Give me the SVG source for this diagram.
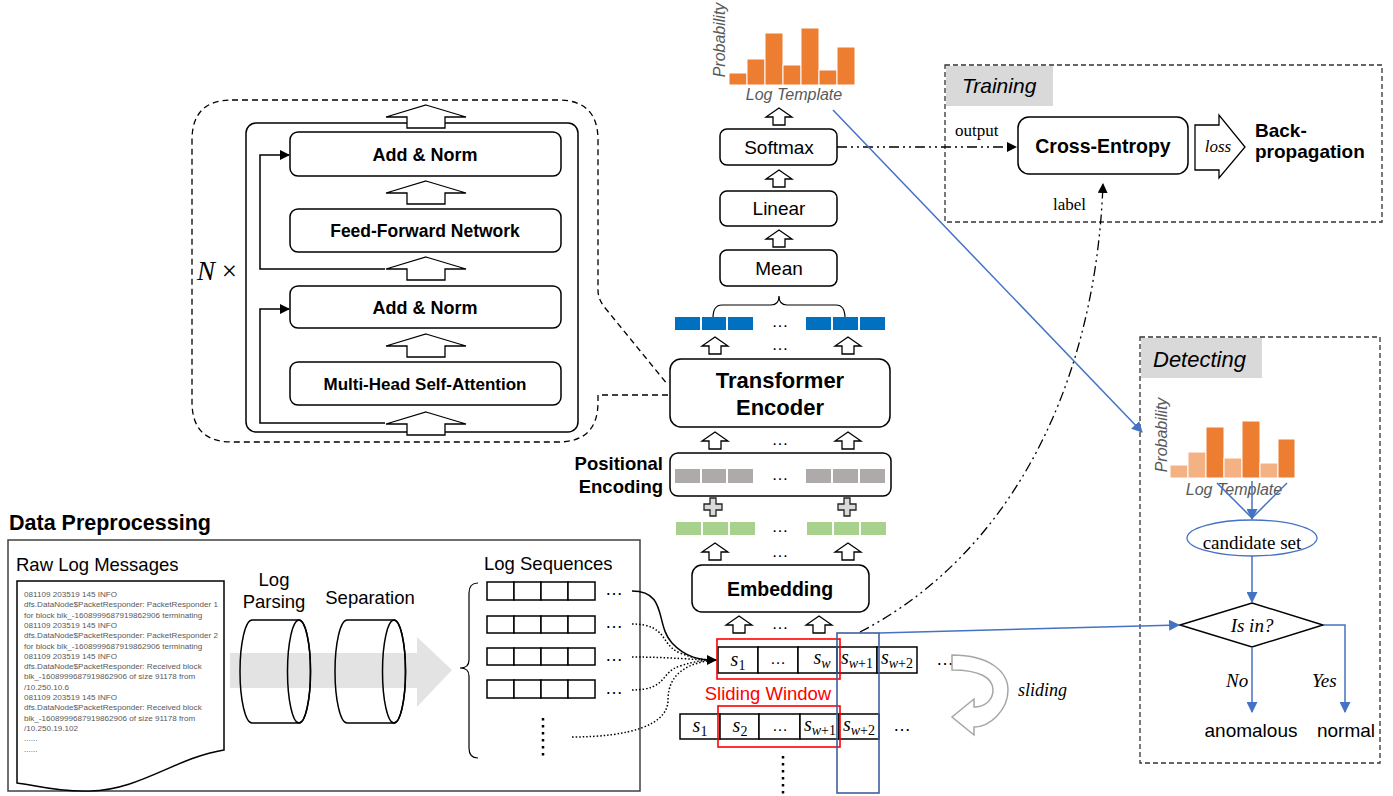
<svg xmlns="http://www.w3.org/2000/svg" width="1393" height="796" viewBox="0 0 1393 796">
<style>
.box{fill:#fff;stroke:#000;stroke-width:1.5}
.cell{fill:#fff;stroke:#000;stroke-width:1.5}
.sa{fill:#fff;stroke:#000;stroke-width:1.3}
.sans{font-family:"Liberation Sans",Arial,sans-serif}
.serif{font-family:"Liberation Serif","Times New Roman",serif}
.b{font-weight:bold}
.it{font-style:italic}
.c{text-anchor:middle}
.grey{fill:#595959}
.m{font-family:"Liberation Serif","Times New Roman",serif;font-size:20px;text-anchor:middle}
.bar{fill:#ED7D31;stroke:#fff;stroke-width:1}
.barl{fill:#F4B183;stroke:#fff;stroke-width:1}
.blue{fill:#0070C0}
.gry{fill:#AEAAAA}
.grn{fill:#A9D18E}
.log{font-family:"Liberation Sans",Arial,sans-serif;font-size:8.1px;fill:#595959}
.dd{stroke:#000;stroke-width:1.3;fill:none;stroke-dasharray:10 4 2 4 2 4}
.bl{stroke:#4472C4;stroke-width:1.5;fill:none}
</style>
<defs>
<marker id="ah" viewBox="0 0 10 10" refX="9" refY="5" markerUnits="userSpaceOnUse" markerWidth="10" markerHeight="10" orient="auto"><path d="M0,0 L10,5 L0,10 z" fill="#000"/></marker>
<marker id="ahb" viewBox="0 0 10 10" refX="9" refY="5" markerUnits="userSpaceOnUse" markerWidth="11" markerHeight="11" orient="auto"><path d="M0,0 L10,5 L0,10 z" fill="#4472C4"/></marker>
<path id="sa" d="M0,0 L13,9 H6 V17 H-6 V9 H-13 Z" class="sa"/>
<path id="ba" d="M0,0 L40,12 H19 V23 H-19 V12 H-40 Z" class="sa"/>
<path id="plus" d="M-3,-9 H3 V-3 H9 V3 H3 V9 H-3 V3 H-9 V-3 H-3 Z" fill="#D9D9D9" stroke="#222" stroke-width="1.3"/>
</defs>
<rect width="1393" height="796" fill="#fff"/>

<!-- N x encoder detail -->
<g id="encoder-detail">
<path d="M232,100 H558 Q598,100 598,140 V290 Q598,300 606,309 L668,385 M668,395 H598 V402 Q598,442 558,442 H232 Q192,442 192,402 V140 Q192,100 232,100" fill="none" stroke="#000" stroke-width="1.3" stroke-dasharray="6 4"/>
<rect x="246" y="123" width="332" height="309" rx="10" class="box"/>
<text x="197" y="280" class="serif" font-size="27"><tspan class="it">N</tspan> ×</text>
<g id="addnorm1"><rect x="290" y="132" width="271" height="44" rx="8" class="box"/><text x="425" y="161" class="sans b c" font-size="18">Add &amp; Norm</text></g>
<g id="ffn"><rect x="290" y="209" width="271" height="43" rx="8" class="box"/><text x="425" y="237" class="sans b c" font-size="17.5">Feed-Forward Network</text></g>
<g id="addnorm2"><rect x="290" y="286" width="271" height="42" rx="8" class="box"/><text x="425" y="314" class="sans b c" font-size="18">Add &amp; Norm</text></g>
<g id="mhsa"><rect x="290" y="362" width="271" height="43" rx="8" class="box"/><text x="425" y="390" class="sans b c" font-size="17">Multi-Head Self-Attention</text></g>
<path d="M385,269 H260 V155 H289" fill="none" stroke="#000" stroke-width="1.5" marker-end="url(#ah)"/>
<path d="M385,423 H260 V309 H289" fill="none" stroke="#000" stroke-width="1.5" marker-end="url(#ah)"/>
<use href="#ba" x="426" y="105"/>
<use href="#ba" x="426" y="181"/>
<use href="#ba" x="426" y="257"/>
<use href="#ba" x="426" y="334"/>
<use href="#ba" x="426" y="412"/>
</g>

<!-- right column -->
<g id="histogram-top">
<rect x="729" y="73" width="18" height="12" class="bar"/>
<rect x="747" y="59" width="18" height="26" class="bar"/>
<rect x="765" y="33" width="18" height="52" class="bar"/>
<rect x="783" y="65" width="18" height="20" class="bar"/>
<rect x="801" y="28" width="18" height="57" class="bar"/>
<rect x="819" y="70" width="18" height="15" class="bar"/>
<rect x="837" y="47" width="18" height="38" class="bar"/>
<text transform="translate(725,40) rotate(-90)" class="sans it c grey" font-size="16">Probability</text>
<text x="794" y="100" class="sans it c grey" font-size="16">Log Template</text>
</g>
<g id="softmax"><rect x="720" y="129" width="117" height="36" rx="7" class="box"/><text x="779" y="154" class="sans c" font-size="19">Softmax</text></g>
<g id="linear"><rect x="720" y="191" width="117" height="35" rx="7" class="box"/><text x="779" y="215" class="sans c" font-size="19">Linear</text></g>
<g id="mean"><rect x="720" y="250" width="117" height="36" rx="7" class="box"/><text x="779" y="275" class="sans c" font-size="19">Mean</text></g>
<g id="enc-out">
<path d="M713,318 Q713,305 722,305 H771 Q779,305 779,296 Q779,305 787,305 H836 Q845,305 845,318" fill="none" stroke="#000" stroke-width="1.2"/>
<rect x="675" y="317" width="25" height="13" class="blue"/><rect x="702" y="317" width="24" height="13" class="blue"/><rect x="728" y="317" width="25" height="13" class="blue"/>
<rect x="806" y="317" width="25" height="13" class="blue"/><rect x="833" y="317" width="25" height="13" class="blue"/><rect x="860" y="317" width="25" height="13" class="blue"/>
<text x="780" y="327" class="sans c" font-size="17">…</text>
</g>
<g id="transformer-encoder"><rect x="670" y="359" width="220" height="68" rx="11" class="box"/><text x="780" y="388" class="sans b c" font-size="22">Transformer</text><text x="780" y="415" class="sans b c" font-size="22">Encoder</text></g>
<g id="positional-encoding">
<rect x="670" y="453" width="221" height="43" rx="8" class="box"/>
<rect x="675" y="469" width="25" height="14" class="gry"/><rect x="702" y="469" width="24" height="14" class="gry"/><rect x="728" y="469" width="25" height="14" class="gry"/>
<rect x="806" y="469" width="25" height="14" class="gry"/><rect x="833" y="469" width="25" height="14" class="gry"/><rect x="860" y="469" width="25" height="14" class="gry"/>
<text x="780" y="480" class="sans c" font-size="17">…</text>
<text x="663" y="470" class="sans b" font-size="18.5" text-anchor="end">Positional</text>
<text x="663" y="493" class="sans b" font-size="18.5" text-anchor="end">Encoding</text>
</g>
<g id="embed-vectors">
<rect x="676" y="522" width="25" height="13" class="grn"/><rect x="703" y="522" width="25" height="13" class="grn"/><rect x="730" y="522" width="25" height="13" class="grn"/>
<rect x="807" y="522" width="25" height="13" class="grn"/><rect x="834" y="522" width="25" height="13" class="grn"/><rect x="861" y="522" width="25" height="13" class="grn"/>
<text x="780" y="532" class="sans c" font-size="17">…</text>
</g>
<g id="embedding"><rect x="692" y="565" width="177" height="47" rx="10" class="box"/><text x="780" y="596" class="sans b c" font-size="19.5">Embedding</text></g>

<g id="small-arrows">
<use href="#sa" x="779" y="108"/>
<use href="#sa" x="779" y="170"/>
<use href="#sa" x="779" y="230"/>
<use href="#sa" x="715" y="337"/><use href="#sa" x="848" y="337"/>
<text x="780" y="350" class="sans c" font-size="17">…</text>
<use href="#sa" x="715" y="432"/><use href="#sa" x="848" y="432"/>
<text x="780" y="445" class="sans c" font-size="17">…</text>
<use href="#plus" x="713" y="507"/><use href="#plus" x="847" y="507"/>
<use href="#sa" x="715" y="543"/><use href="#sa" x="848" y="543"/>
<text x="780" y="557" class="sans c" font-size="17">…</text>
<use href="#sa" x="739" y="616"/><use href="#sa" x="819" y="616"/>
<text x="780" y="629" class="sans c" font-size="17">…</text>
</g>

<!-- sequences -->
<g id="sequence-1">
<rect x="718" y="647" width="40" height="26" class="cell"/><rect x="758" y="647" width="40" height="26" class="cell"/><rect x="798" y="647" width="39" height="26" class="cell"/><rect x="837" y="647" width="40" height="26" class="cell"/><rect x="877" y="647" width="40" height="26" class="cell"/>
<text x="738" y="666" class="m"><tspan class="it">s</tspan><tspan dy="4" font-size="14">1</tspan></text>
<text x="778" y="664" class="sans c" font-size="16">…</text>
<text x="822" y="664" class="m"><tspan class="it">s</tspan><tspan dy="4" font-size="14" class="it">w</tspan></text>
<text x="857" y="664" class="m"><tspan class="it">s</tspan><tspan dy="4" font-size="14"><tspan class="it">w</tspan>+1</tspan></text>
<text x="897" y="664" class="m"><tspan class="it">s</tspan><tspan dy="4" font-size="14"><tspan class="it">w</tspan>+2</tspan></text>
<text x="945" y="665" class="sans c" font-size="18">…</text>
</g>
<g id="sequence-2">
<rect x="680" y="714" width="40" height="25" class="cell"/><rect x="720" y="714" width="39" height="25" class="cell"/><rect x="759" y="714" width="41" height="25" class="cell"/><rect x="800" y="714" width="39" height="25" class="cell"/><rect x="839" y="714" width="40" height="25" class="cell"/>
<text x="700" y="732" class="m"><tspan class="it">s</tspan><tspan dy="4" font-size="14">1</tspan></text>
<text x="740" y="732" class="m"><tspan class="it">s</tspan><tspan dy="4" font-size="14">2</tspan></text>
<text x="780" y="731" class="sans c" font-size="16">…</text>
<text x="820" y="731" class="m"><tspan class="it">s</tspan><tspan dy="4" font-size="14"><tspan class="it">w</tspan>+1</tspan></text>
<text x="859" y="731" class="m"><tspan class="it">s</tspan><tspan dy="4" font-size="14"><tspan class="it">w</tspan>+2</tspan></text>
<text x="902" y="731" class="sans c" font-size="18">…</text>
<line x1="783" y1="756" x2="783" y2="796" stroke="#000" stroke-width="2.5" stroke-dasharray="2.5 4.5"/>
</g>
<g id="sliding-window">
<rect x="717" y="639" width="123" height="40" fill="none" stroke="#FF0000" stroke-width="1.6"/>
<rect x="718" y="706" width="122" height="41" fill="none" stroke="#FF0000" stroke-width="1.6"/>
<text x="768" y="700" class="sans c" font-size="18.5" fill="#FF0000">Sliding Window</text>
<rect x="837" y="633" width="42" height="160" fill="none" stroke="#3F5F9F" stroke-width="1.6"/>
</g>
<g id="sliding-arrow">
<path d="M952,655 C990,655 1008,672 1008,690 C1008,710 990,727 974,727 L974,735 L952,717 L974,699 L974,707 C985,707 993,700 993,690 C993,678 980,670 952,670 Z" fill="#fff" stroke="#A6A6A6" stroke-width="1.5"/>
<text x="1018" y="696" class="serif it" font-size="18">sliding</text>
</g>

<!-- data preprocessing -->
<g id="data-preprocessing">
<text x="9" y="530" class="sans b" font-size="21.5">Data Preprocessing</text>
<rect x="8" y="540" width="632" height="251" fill="#fff" stroke="#404040" stroke-width="1.5"/>
<text x="16" y="571" class="sans" font-size="18.5">Raw Log Messages</text>
<path d="M17,581 H224 V750 C175,758 140,790 90,791 C55,792 35,785 17,783 Z" fill="#fff" stroke="#000" stroke-width="1.5"/>
<text class="log">
<tspan x="24" y="597">081109 203519 145 INFO</tspan>
<tspan x="24" y="607.3">dfs.DataNode$PacketResponder: PacketResponder 1</tspan>
<tspan x="24" y="617.6">for block blk_-1608999687919862906 terminating</tspan>
<tspan x="24" y="627.9">081109 203519 145 INFO</tspan>
<tspan x="24" y="638.2">dfs.DataNode$PacketResponder: PacketResponder 2</tspan>
<tspan x="24" y="648.5">for block blk_-1608999687919862906 terminating</tspan>
<tspan x="24" y="658.8">081109 203519 145 INFO</tspan>
<tspan x="24" y="669.1">dfs.DataNode$PacketResponder: Received block</tspan>
<tspan x="24" y="679.4">blk_-1608999687919862906 of size 91178 from</tspan>
<tspan x="24" y="689.7">/10.250.10.6</tspan>
<tspan x="24" y="700">081109 203519 145 INFO</tspan>
<tspan x="24" y="710.3">dfs.DataNode$PacketResponder: Received block</tspan>
<tspan x="24" y="720.6">blk_-1608999687919862906 of size 91178 from</tspan>
<tspan x="24" y="730.9">/10.250.19.102</tspan>
<tspan x="24" y="741.2">......</tspan>
<tspan x="24" y="751.5">......</tspan>
</text>
<path d="M230,653 H417 V637 L452,670 L417,707 V688 H230 Z" fill="#E3E3E3"/>
<g id="log-parsing">
<path d="M252,620 H299 A11.5,51.5 0 0 1 299,723 H252 A12,51.5 0 0 1 252,620 Z" fill="none" stroke="#000" stroke-width="1.5"/>
<ellipse cx="299" cy="671.5" rx="11.5" ry="51.5" fill="none" stroke="#000" stroke-width="1.5"/>
<text x="274" y="586" class="sans c" font-size="18.5">Log</text>
<text x="274" y="608" class="sans c" font-size="18.5">Parsing</text>
</g>
<g id="separation">
<path d="M347,620 H394 A11.5,51.5 0 0 1 394,723 H347 A12,51.5 0 0 1 347,620 Z" fill="none" stroke="#000" stroke-width="1.5"/>
<ellipse cx="394" cy="671.5" rx="11.5" ry="51.5" fill="none" stroke="#000" stroke-width="1.5"/>
<text x="370" y="604" class="sans c" font-size="18.5">Separation</text>
</g>
<g id="log-sequences">
<text x="484" y="570" class="sans" font-size="18.5">Log Sequences</text>
<path d="M478,583 Q469,583 469,593 V660 Q469,668 460,668 Q469,668 469,676 V748 Q469,758 478,758" fill="none" stroke="#000" stroke-width="1.2"/>
<g>
<rect x="487" y="582" width="27" height="18" class="cell"/><rect x="514" y="582" width="27" height="18" class="cell"/><rect x="541" y="582" width="27" height="18" class="cell"/><rect x="568" y="582" width="27" height="18" class="cell"/>
<rect x="487" y="616" width="27" height="17" class="cell"/><rect x="514" y="616" width="27" height="17" class="cell"/><rect x="541" y="616" width="27" height="17" class="cell"/><rect x="568" y="616" width="27" height="17" class="cell"/>
<rect x="487" y="648" width="27" height="17" class="cell"/><rect x="514" y="648" width="27" height="17" class="cell"/><rect x="541" y="648" width="27" height="17" class="cell"/><rect x="568" y="648" width="27" height="17" class="cell"/>
<rect x="487" y="680" width="27" height="18" class="cell"/><rect x="514" y="680" width="27" height="18" class="cell"/><rect x="541" y="680" width="27" height="18" class="cell"/><rect x="568" y="680" width="27" height="18" class="cell"/>
</g>
<text class="sans" font-size="18"><tspan x="605" y="595">…</tspan><tspan x="605" y="628">…</tspan><tspan x="605" y="661">…</tspan><tspan x="605" y="694">…</tspan></text>
<line x1="543" y1="718" x2="543" y2="757" stroke="#000" stroke-width="2.5" stroke-dasharray="2.5 4.5"/>
</g>
</g>

<!-- training -->
<g id="training">
<rect x="945" y="65" width="437" height="157" fill="none" stroke="#333" stroke-width="1.3" stroke-dasharray="5 3"/>
<rect x="946" y="66" width="107" height="40" fill="#D9D9D9"/>
<text x="962" y="93" class="sans it" font-size="21">Training</text>
<g id="cross-entropy"><rect x="1018" y="117" width="170" height="57" rx="11" class="box"/><text x="1103" y="153" class="sans b c" font-size="19.5">Cross-Entropy</text></g>
<path d="M1195,125 H1219 V115 L1245,147 L1219,178 V170 H1195 Z" fill="#fff" stroke="#000" stroke-width="1.3"/>
<text x="1218" y="152" class="serif it c" font-size="17">loss</text>
<text x="1255" y="137" class="sans b" font-size="19">Back-</text>
<text x="1255" y="158" class="sans b" font-size="19">propagation</text>
<text x="955" y="136" class="serif" font-size="17">output</text>
<text x="1053" y="210" class="serif" font-size="17">label</text>
</g>

<!-- detecting -->
<g id="detecting">
<rect x="1140" y="337" width="240" height="426" fill="none" stroke="#333" stroke-width="1.3" stroke-dasharray="5 3"/>
<rect x="1141" y="338" width="121" height="40" fill="#D9D9D9"/>
<text x="1153" y="367" class="sans it" font-size="22">Detecting</text>
<g id="histogram-detect">
<rect x="1170" y="465" width="18" height="13" class="barl"/>
<rect x="1188" y="452" width="18" height="26" class="barl"/>
<rect x="1206" y="427" width="18" height="51" class="bar"/>
<rect x="1224" y="458" width="18" height="20" class="barl"/>
<rect x="1242" y="421" width="18" height="57" class="bar"/>
<rect x="1260" y="463" width="18" height="15" class="barl"/>
<rect x="1278" y="439" width="17" height="39" class="bar"/>
<text transform="translate(1167,435) rotate(-90)" class="sans it c grey" font-size="16">Probability</text>
<text x="1234" y="495" class="sans it c grey" font-size="16">Log Template</text>
</g>
<g id="candidate-set"><ellipse cx="1252" cy="538" rx="65" ry="18" fill="#fff" stroke="#4472C4" stroke-width="1.3"/><text x="1252" y="549" class="serif c" font-size="19">candidate set</text></g>
<g id="is-in"><path d="M1252,603 L1323,625 L1252,647 L1180,625 Z" fill="#fff" stroke="#000" stroke-width="1.5"/><text x="1252" y="632" class="serif it c" font-size="19">Is in?</text></g>
<text x="1226" y="687" class="serif it" font-size="19">No</text>
<text x="1312" y="687" class="serif it" font-size="19">Yes</text>
<text x="1251" y="737" class="sans c" font-size="19">anomalous</text>
<text x="1346" y="737" class="sans c" font-size="19">normal</text>
</g>

<!-- connectors -->
<g id="connectors">
<path d="M632,591 C668,591 655,625 672,643 C686,658 700,660 716,660" fill="none" stroke="#000" stroke-width="1.5" marker-end="url(#ah)"/>
<path d="M632,624 C668,624 660,645 680,653 C695,659 705,660 716,660" fill="none" stroke="#000" stroke-width="1.5" stroke-dasharray="1.5 2"/>
<path d="M632,657 C670,657 695,660 716,660" fill="none" stroke="#000" stroke-width="1.5" stroke-dasharray="1.5 2"/>
<path d="M632,690 C668,690 660,672 680,666 C695,661 705,660 716,660" fill="none" stroke="#000" stroke-width="1.5" stroke-dasharray="1.5 2"/>
<path d="M572,737 C630,737 668,725 668,700 C668,672 690,662 716,660" fill="none" stroke="#000" stroke-width="1.5" stroke-dasharray="1.5 2"/>
<path d="M837,147 H1016" class="dd" marker-end="url(#ah)"/>
<path d="M860,632 C1000,560 1095,400 1103,184" class="dd" marker-end="url(#ah)"/>
<path d="M833,110 L1142,432" class="bl" marker-end="url(#ahb)"/>
<path d="M879,633 L1179,625" class="bl" marker-end="url(#ahb)"/>
<path d="M1217,483 L1252,518" class="bl"/>
<path d="M1252,481 V519" class="bl" marker-end="url(#ahb)"/>
<path d="M1287,483 L1252,518" class="bl"/>
<path d="M1252,556 V602" class="bl" marker-end="url(#ahb)"/>
<path d="M1252,647 V712" class="bl" marker-end="url(#ahb)"/>
<path d="M1323,625 H1345 V712" class="bl" marker-end="url(#ahb)"/>
</g>
</svg>
